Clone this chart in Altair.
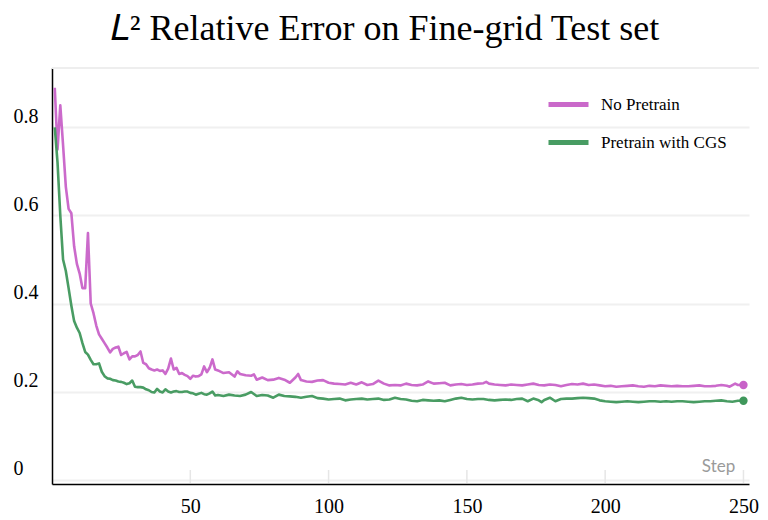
import altair as alt
import pandas as pd

series_names = ["No Pretrain", "Pretrain with CGS"]
series_colors = ["#c862c8", "#3f975b"]

x_ticks = [50, 100, 150, 200, 250]
y_ticks = [0, 0.2, 0.4, 0.6, 0.8]

# No Pretrain
steps_no = list(range(1, 61)) + [62, 64, 66, 67, 68, 70, 72, 73, 74, 76, 78, 80, 82, 84, 86, 88, 89, 90,
    92, 94, 96, 98, 100, 102, 104, 106, 108, 110, 112, 114, 116, 118, 120, 122, 124, 126, 128, 130,
    132, 134, 136, 138, 140, 142, 144, 146, 148, 150, 152, 154, 156, 157, 158, 160, 162, 164, 166,
    168, 170, 172, 174, 176, 178, 180, 182, 184, 186, 188, 190, 192, 194, 196, 198, 200, 202, 204,
    206, 208, 210, 212, 214, 216, 218, 220, 222, 224, 226, 228, 230, 232, 234, 236, 238, 240, 242,
    244, 245, 247, 248, 250]
vals_no = [0.89, 0.75, 0.85, 0.76, 0.665, 0.615, 0.605, 0.53, 0.49, 0.468,
    0.435, 0.435, 0.56, 0.40, 0.378, 0.35, 0.33, 0.32, 0.31, 0.30,
    0.289, 0.297, 0.300, 0.302, 0.283, 0.287, 0.290, 0.273, 0.280, 0.280,
    0.283, 0.291, 0.265, 0.262, 0.253, 0.250, 0.248, 0.250, 0.247, 0.248,
    0.240, 0.252, 0.275, 0.250, 0.254, 0.240, 0.242, 0.238, 0.235, 0.229,
    0.236, 0.234, 0.235, 0.239, 0.257, 0.244, 0.254, 0.273, 0.250, 0.248,
    0.242, 0.244, 0.234, 0.246, 0.240, 0.237, 0.236, 0.239, 0.227, 0.232, 0.226, 0.227, 0.231,
    0.227, 0.220, 0.232, 0.240, 0.226,
    0.223, 0.222, 0.225, 0.226, 0.220, 0.218, 0.217, 0.216, 0.220, 0.216, 0.221, 0.215, 0.217,
    0.225, 0.218, 0.214, 0.215, 0.214, 0.218, 0.215,
    0.214, 0.216, 0.223, 0.218, 0.219, 0.220, 0.214, 0.216, 0.217, 0.215, 0.216, 0.218, 0.219,
    0.222, 0.218, 0.216, 0.215, 0.214, 0.216,
    0.215, 0.214, 0.216, 0.218, 0.215, 0.214, 0.216, 0.215, 0.212, 0.215, 0.217, 0.216, 0.218,
    0.215, 0.216, 0.214, 0.212, 0.213, 0.211,
    0.212, 0.213, 0.214, 0.212, 0.211, 0.213, 0.212, 0.214, 0.213, 0.212, 0.213, 0.212, 0.212,
    0.213, 0.214, 0.212, 0.212, 0.213, 0.215,
    0.213, 0.211, 0.218, 0.215, 0.215]

# Pretrain with CGS
steps_cgs = list(range(1, 61)) + [62, 64, 66, 68, 70, 72, 74, 76, 78, 80, 82, 84, 86, 88, 90, 92, 94,
    96, 98, 100, 102, 104, 106, 108, 110, 112, 114, 116, 118, 120, 122, 124, 126, 128, 130, 132, 134,
    136, 138, 140, 142, 144, 146, 148, 150, 152, 154, 156, 158, 160, 162, 164, 166, 168, 170, 172,
    174, 176, 177, 178, 180, 182, 184, 186, 188, 190, 192, 194, 196, 198, 200, 202, 204, 206, 208,
    210, 212, 214, 216, 218, 220, 222, 224, 226, 228, 230, 232, 234, 236, 238, 240, 242, 244, 246,
    248, 250]
vals_cgs = [0.80, 0.72, 0.60, 0.50, 0.474, 0.435, 0.395, 0.36, 0.345, 0.333,
    0.31, 0.29, 0.284, 0.272, 0.262, 0.262, 0.264, 0.245, 0.235, 0.230,
    0.229, 0.226, 0.225, 0.223, 0.222, 0.220, 0.217, 0.219, 0.225, 0.211,
    0.210, 0.210, 0.209, 0.205, 0.203, 0.199, 0.198, 0.206, 0.200, 0.198,
    0.205, 0.200, 0.198, 0.200, 0.201, 0.199, 0.199, 0.200, 0.200, 0.197,
    0.196, 0.193, 0.195, 0.197, 0.194, 0.193, 0.196, 0.200, 0.191, 0.192,
    0.190, 0.193, 0.191, 0.190, 0.193, 0.199, 0.190, 0.192, 0.191, 0.186, 0.193, 0.190, 0.189,
    0.188, 0.186, 0.188, 0.190,
    0.185, 0.184, 0.182, 0.183, 0.184, 0.180, 0.182, 0.183, 0.184, 0.182, 0.183, 0.184, 0.181,
    0.182, 0.186, 0.183, 0.182, 0.179, 0.178, 0.181,
    0.180, 0.179, 0.180, 0.178, 0.181, 0.184, 0.186, 0.183, 0.182, 0.183, 0.183, 0.181, 0.180,
    0.181, 0.182, 0.181, 0.183, 0.184, 0.178,
    0.184, 0.180, 0.176, 0.181, 0.186, 0.178, 0.183, 0.184, 0.184, 0.185, 0.186, 0.185, 0.184,
    0.180, 0.178, 0.177, 0.176, 0.177, 0.178,
    0.177, 0.176, 0.177, 0.178, 0.178, 0.177, 0.178, 0.177, 0.178, 0.178, 0.177, 0.176, 0.177,
    0.178, 0.178, 0.179, 0.180, 0.178, 0.177,
    0.179, 0.179]

df = pd.concat([
    pd.DataFrame({"step": steps_no, "value": vals_no, "series": series_names[0]}),
    pd.DataFrame({"step": steps_cgs, "value": vals_cgs, "series": series_names[1]}),
])
last_step = max(max(steps_no), max(steps_cgs))
ticks_df = pd.DataFrame({"step": x_ticks})

W, H = 697, 416
serif = "Liberation Serif"

xscale = alt.Scale(domain=[0, 252], nice=False, zero=False)
yscale = alt.Scale(domain=[-0.01, 0.935], nice=False, zero=False)

color = alt.Color(
    "series:N",
    scale=alt.Scale(domain=series_names, range=series_colors),
    legend=alt.Legend(
        orient="none", legendX=494, legendY=14, title=None,
        symbolType="stroke", symbolSize=1600, symbolStrokeWidth=5,
        labelFont=serif, labelFontSize=17, labelColor="#000000",
        labelOffset=10, rowPadding=5, padding=0,
    ),
)

base = alt.Chart(df)

lines = base.mark_line(strokeWidth=2.6, strokeJoin="round", opacity=0.95).encode(
    x=alt.X("step:Q", scale=xscale, axis=alt.Axis(
        values=x_ticks, ticks=False, grid=False, domainColor="#000000", domainWidth=1.5,
        labelFont=serif, labelFontSize=20, labelColor="#000000", labelPadding=12,
        title="Step", titleFont="Lato", titleFontSize=17, titleFontWeight="normal",
        titleColor="#9a9a9a", titleX=666, titleY=-18, titleAlign="center",
        titleBaseline="middle", titleAnchor="start")),
    y=alt.Y("value:Q", scale=yscale, axis=alt.Axis(
        values=y_ticks, format=".1~f", ticks=False, grid=True, gridColor="#f0f0f0",
        gridWidth=2, domainColor="#000000", domainWidth=1.5,
        labelFont=serif, labelFontSize=20, labelColor="#000000",
        labelAlign="left", labelPadding=39, labelBaseline="middle", labelOffset=-11,
        title=None)),
    color=color,
)

dots = base.mark_circle(size=70, opacity=1).encode(
    x=alt.X("step:Q", scale=xscale),
    y=alt.Y("value:Q", scale=yscale),
    color=alt.Color("series:N", scale=alt.Scale(domain=series_names, range=series_colors), legend=None),
).transform_filter(alt.datum.step == last_step)

xtick_marks = alt.Chart(ticks_df).mark_rule(color="#e6e6e6", strokeWidth=1.5).encode(
    x=alt.X("step:Q", scale=xscale),
    y=alt.value(H - 14),
    y2=alt.value(H - 1),
)

top_border = alt.Chart(ticks_df.head(1)).mark_rule(color="#eeeeee", strokeWidth=2).encode(
    x=alt.value(0), x2=alt.value(W + 10), y=alt.value(0),
)

chart = alt.layer(top_border, xtick_marks, lines, dots).properties(
    width=W, height=H,
    title=alt.TitleParams(
        text="𝐿² Relative Error on Fine-grid Test set", font=serif, fontSize=36,
        fontWeight="normal", color="#000000", anchor="middle", dx=-16, offset=19,
    ),
    autosize=alt.AutoSizeParams(type="none"),
    padding={"left": 44, "top": 60, "right": 10, "bottom": 36},
).configure_view(stroke=None).configure_axis(labelFont=serif)

chart.save("out.html", embed_options={"renderer": "svg", "actions": False})
